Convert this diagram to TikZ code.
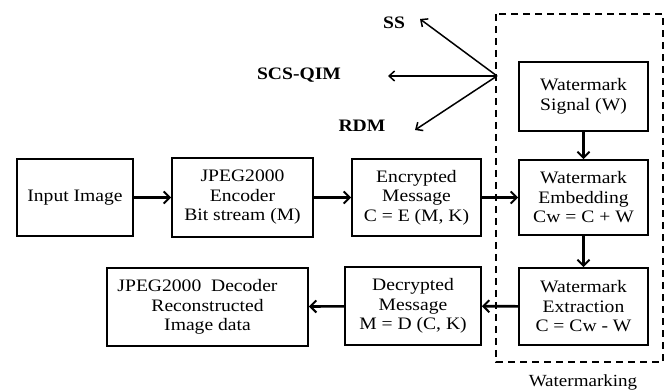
\documentclass[tikz,border=0pt]{standalone}
\usepackage{fontspec}
\setmainfont{Liberation Serif}[FakeStretch=1.12]
\usetikzlibrary{arrows.meta}
\begin{document}
\begin{tikzpicture}[x=1pt,y=-1pt,
  blk/.style={draw, line width=1.8pt, align=center, inner sep=0pt,
              font=\fontsize{17.5}{19.5}\selectfont},
  flow/.style={line width=2.6pt, -{Straight Barb[length=6pt,width=12pt,line width=2pt]}},
  fan/.style={line width=1.5pt, -{Straight Barb[length=5.5pt,width=10pt]}},
  lab/.style={font=\fontsize{17.5}{19}\selectfont\bfseries, inner sep=0pt},
  grp/.style={dash pattern=on 7pt off 5pt, line width=1.7pt}]
\useasboundingbox (0,0) rectangle (670,390);

% watermarking group frame
\draw[grp] (496,14) rectangle (663,362);
\node[font=\fontsize{17}{19}\selectfont, anchor=base, inner sep=0pt] (wm) at (583,386) {Watermarking};

% blocks
\node[blk, minimum width=116pt, minimum height=77pt] (in)   at (75,197.5)   {Input Image};
\node[blk, minimum width=141pt, minimum height=79pt] (enc)  at (242.5,197.5) {JPEG2000\\Encoder\\Bit stream (M)};
\node[blk, minimum width=129pt, minimum height=77pt] (encr) at (416.5,197.5) {Encrypted\\Message\\C = E (M, K)};
\node[blk, minimum width=129pt, minimum height=75pt] (emb)  at (583.5,197.5) {Watermark\\Embedding\\Cw = C + W};
\node[blk, minimum width=129pt, minimum height=69pt] (sig)  at (583.5,96.5)  {Watermark\\Signal (W)};
\node[blk, minimum width=129pt, minimum height=77pt] (ext)  at (583.5,306.5) {Watermark\\Extraction\\C = Cw - W};
\node[blk, minimum width=136pt, minimum height=78pt] (dec)  at (413,306)     {Decrypted\\Message\\M = D (C, K)};
\node[blk, minimum width=201pt, minimum height=78pt] (jdec) at (207.5,307)   {JPEG2000\ \ Decoder\hspace*{20pt}\\Reconstructed\\Image data};

% flow arrows
\draw[flow] (in) -- (enc);
\draw[flow] (enc) -- (encr);
\draw[flow] (encr) -- (emb);
\draw[flow] (sig) -- (emb);
\draw[flow] (emb) -- (ext);
\draw[flow] (ext) -- (dec);
\draw[flow] (dec) -- (jdec);

% scheme labels and fan arrows
\node[lab] (ss)  at (394,23)  {SS};
\node[lab] (scs) at (299,75)  {SCS-QIM};
\node[lab] (rdm) at (362,126) {RDM};
\coordinate (fo) at (497,76);
\coordinate (tss)  at (420,19);
\coordinate (tscs) at (388,76);
\coordinate (trdm) at (415,130);
\draw[fan] (fo) -- (tss);
\draw[fan] (fo) -- (tscs);
\draw[fan] (fo) -- (trdm);
\end{tikzpicture}
\end{document}
